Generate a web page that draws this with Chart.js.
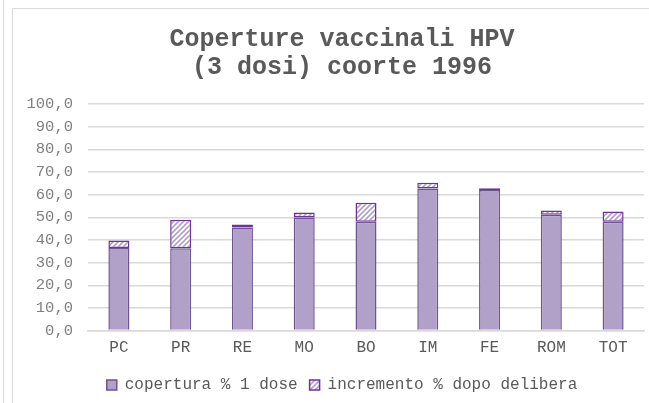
<!DOCTYPE html>
<html>
<head>
<meta charset="utf-8">
<script src="https://cdn.jsdelivr.net/npm/chart.js@4.4.1/dist/chart.umd.min.js"></script>
<style>
  html, body { margin: 0; padding: 0; background: #fff; }
  #wrap { width: 649px; height: 403px; position: relative; }
</style>
</head>
<body>
<div id="wrap"><canvas id="chart"></canvas></div>
<script>
/* ============================
   DATA
============================ */
const categories = ['PC', 'PR', 'RE', 'MO', 'BO', 'IM', 'FE', 'ROM', 'TOT'];
const copertura1Dose = [36.4, 36.3, 45.5, 49.9, 48.0, 62.7, 62.0, 51.1, 48.0];
const incremento = [3.4, 12.6, 1.3, 2.2, 8.4, 2.5, 0.8, 1.9, 4.6];
const titleLines = ['Coperture vaccinali HPV', '(3 dosi) coorte 1996'];
const seriesNames = ['copertura % 1 dose', 'incremento % dopo delibera'];

// Liberation Mono has the same metrics as Courier New
const FONT = '"Liberation Mono", "Courier New", monospace';

/* ============================
   HATCH PATTERN
============================ */
function makeHatch() {
    const c = document.createElement('canvas');
    c.width = 5; c.height = 5;
    const g = c.getContext('2d');
    g.fillStyle = '#ffffff';
    g.fillRect(0, 0, 5, 5);
    g.strokeStyle = '#b1a0c7';
    g.lineWidth = 1.6;
    g.beginPath();
    g.moveTo(-1, 6); g.lineTo(6, -1);
    g.moveTo(-1, 1); g.lineTo(1, -1);
    g.moveTo(4, 6); g.lineTo(6, 4);
    g.stroke();
    return g.createPattern(c, 'repeat');
}
const hatch = makeHatch();

/* ============================
   FRAME PLUGIN
============================ */
const framePlugin = {
    id: 'frame',
    afterLayout(chart) {
        // let the y labels run left of the padded box (title/legend stay centred like the original)
        chart.scales.y.left = 20;
    },
    beforeDraw(chart) {
        const ctx = chart.ctx;
        ctx.save();
        ctx.strokeStyle = '#d9d9d9';
        ctx.lineWidth = 1;
        ctx.beginPath();
        ctx.moveTo(3.5, 0); ctx.lineTo(3.5, 403);
        ctx.moveTo(12.5, 403); ctx.lineTo(12.5, 8.5); ctx.lineTo(649, 8.5);
        ctx.stroke();
        ctx.restore();
    }
};

/* ============================
   CHART
============================ */
new Chart(document.getElementById('chart'), {
    type: 'bar',
    data: {
        labels: categories,
        datasets: [{
            label: seriesNames[0],
            data: copertura1Dose,
            backgroundColor: '#b1a0c7',
            borderColor: '#6b5491',
            borderWidth: 1.5,
            borderSkipped: 'start',
            barPercentage: 0.34,
            categoryPercentage: 1
        }, {
            label: seriesNames[1],
            data: incremento,
            backgroundColor: hatch,
            borderColor: '#7030a0',
            borderWidth: 1.5,
            borderSkipped: false,
            barPercentage: 0.34,
            categoryPercentage: 1
        }]
    },
    options: {
        responsive: true,
        maintainAspectRatio: false,
        animation: false,
        layout: { padding: { left: 40, right: 5, top: 0, bottom: 0 } },
        plugins: {
            title: {
                display: true,
                text: titleLines,
                color: '#595959',
                font: { family: FONT, size: 25, weight: 'bold', lineHeight: 1.12 },
                padding: { top: 26, bottom: 22 }
            },
            legend: {
                position: 'bottom',
                labels: {
                    color: '#595959',
                    font: { family: FONT, size: 16 },
                    boxWidth: 10,
                    boxHeight: 10,
                    padding: 12
                }
            },
            tooltip: { enabled: false }
        },
        scales: {
            x: {
                stacked: true,
                grid: { display: false, drawTicks: false },
                border: { color: '#d9d9d9', width: 1.5 },
                ticks: {
                    color: '#595959',
                    font: { family: FONT, size: 16, lineHeight: 0.9 },
                    padding: 10
                }
            },
            y: {
                stacked: true,
                min: 0,
                max: 100,
                afterFit(scale) { scale.width = 48; },
                grid: { color: '#d9d9d9', lineWidth: 1.5, drawTicks: false },
                border: { display: false },
                ticks: {
                    stepSize: 10,
                    padding: 15,
                    color: '#7f7f7f',
                    font: { family: FONT, size: 15.5 },
                    callback: v => v.toFixed(1).replace('.', ',')
                }
            }
        }
    },
    plugins: [framePlugin]
});
</script>
</body>
</html>
